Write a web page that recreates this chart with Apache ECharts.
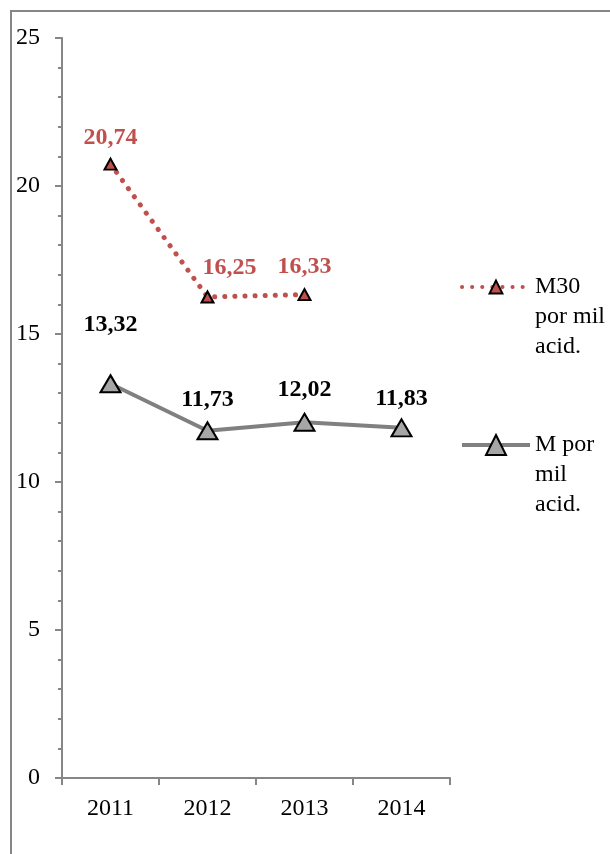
<!DOCTYPE html>
<html>
<head>
<meta charset="utf-8">
<script src="https://cdn.jsdelivr.net/npm/echarts@6/dist/echarts.min.js"></script>
<style>html,body{margin:0;padding:0;background:#fff}#c{width:610px;height:854px}</style>
</head>
<body>
<div id="c"></div>
<script>
const categories = ['2011', '2012', '2013', '2014'];
const m30Values = [20.74, 16.25, 16.33, null];
const mValues = [13.32, 11.73, 12.02, 11.83];
const m30Name = 'M30 por mil acid.';
const mName = 'M por mil acid.';

const fontFamily = '"Liberation Serif", "Times New Roman", serif';
const red = '#C0504D';
const fmt = v => v.toFixed(2).replace('.', ',');

// label placement tweaks (presentation only)
const m30LabelOffsets = [[0, -3], [22, -6], [0, -4], [0, 0]];
const mLabelOffsets = [[0, -33], [0, -5], [0, -6], [0, -3]];

const chart = echarts.init(document.getElementById('c'));
chart.setOption({
  animation: false,
  backgroundColor: '#fff',
  graphic: [{
    type: 'rect', shape: {x: 11, y: 11, width: 700, height: 900},
    style: {fill: 'none', stroke: '#868686', lineWidth: 2}, silent: true
  }],
  grid: {left: 62, right: 160, top: 38, bottom: 76},
  legend: [{
    data: [m30Name], left: 455, top: 207, orient: 'vertical',
    itemWidth: 68, itemHeight: 16, itemGap: 0,
    formatter: () => '\n\nM30\npor mil\nacid.',
    lineStyle: {width: 4, type: [0.1, 10], cap: 'round'},
    textStyle: {fontFamily, fontSize: 24, color: '#000', lineHeight: 30}
  }, {
    data: [mName], left: 455, top: 365, orient: 'vertical',
    itemWidth: 68, itemHeight: 25, itemGap: 0,
    formatter: () => '\n\nM por\nmil\nacid.',
    lineStyle: {width: 4},
    textStyle: {fontFamily, fontSize: 24, color: '#000', lineHeight: 30}
  }],
  xAxis: {
    type: 'category', data: categories, boundaryGap: true,
    axisLine: {lineStyle: {color: '#868686', width: 2}},
    axisTick: {show: true, length: 7, inside: false, lineStyle: {color: '#868686', width: 2}},
    axisLabel: {fontFamily, fontSize: 24, color: '#000', margin: 19},
    splitLine: {show: false}
  },
  yAxis: {
    type: 'value', min: 0, max: 25, interval: 5,
    axisLine: {show: true, lineStyle: {color: '#868686', width: 2}},
    axisTick: {show: true, length: 7, lineStyle: {color: '#868686', width: 2}},
    minorTick: {show: true, splitNumber: 5, length: 4, lineStyle: {color: '#868686', width: 2}},
    axisLabel: {fontFamily, fontSize: 24, color: '#000', margin: 22},
    splitLine: {show: false}
  },
  series: [{
    name: m30Name, type: 'line',
    data: m30Values.map((v, i) => ({value: v, label: {offset: m30LabelOffsets[i]}})),
    symbol: 'triangle', symbolSize: [12, 11],
    itemStyle: {color: red, borderColor: '#000', borderWidth: 2},
    lineStyle: {color: red, width: 5, type: [0.1, 10], cap: 'round'},
    label: {show: true, position: 'top', formatter: p => fmt(p.value),
      fontFamily, fontSize: 24, fontWeight: 'bold', color: red}
  }, {
    name: mName, type: 'line',
    data: mValues.map((v, i) => ({value: v, label: {offset: mLabelOffsets[i]}})),
    symbol: 'triangle', symbolSize: [20, 17],
    itemStyle: {color: '#A6A6A6', borderColor: '#000', borderWidth: 2},
    lineStyle: {color: '#808080', width: 4},
    label: {show: true, position: 'top', formatter: p => fmt(p.value),
      fontFamily, fontSize: 24, fontWeight: 'bold', color: '#000'}
  }]
});
</script>
</body>
</html>
